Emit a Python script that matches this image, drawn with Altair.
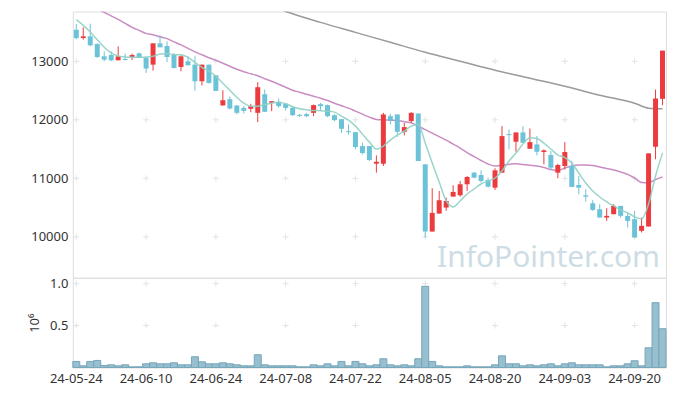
import altair as alt
import pandas as pd

dates = ["24-05-24","24-05-27","24-05-28","24-05-29","24-05-30","24-05-31","24-06-03","24-06-04","24-06-05","24-06-07",
         "24-06-10","24-06-11","24-06-12","24-06-13","24-06-14","24-06-17","24-06-18","24-06-19","24-06-20","24-06-21",
         "24-06-24","24-06-25","24-06-26","24-06-27","24-06-28","24-07-01","24-07-02","24-07-03","24-07-04","24-07-05",
         "24-07-08","24-07-09","24-07-10","24-07-11","24-07-12","24-07-15","24-07-16","24-07-17","24-07-18","24-07-19",
         "24-07-22","24-07-23","24-07-24","24-07-25","24-07-26","24-07-29","24-07-30","24-07-31","24-08-01","24-08-02",
         "24-08-05","24-08-06","24-08-07","24-08-08","24-08-09","24-08-12","24-08-13","24-08-14","24-08-16","24-08-19",
         "24-08-20","24-08-21","24-08-22","24-08-23","24-08-26","24-08-27","24-08-28","24-08-29","24-08-30","24-09-02",
         "24-09-03","24-09-04","24-09-05","24-09-06","24-09-09","24-09-10","24-09-11","24-09-12","24-09-13","24-09-19",
         "24-09-20","24-09-23","24-09-24","24-09-25","24-09-26"]

opens = [13540,13397,13426,13295,13085,13107,13017,13039,13073,13136,
         13056,12943,13307,13262,13107,12903,13000,12943,12659,12943,
         12761,12245,12352,12245,12204,12188,12119,12437,12290,12307,
         12273,12204,12085,12096,12119,12267,12250,12079,12011,11806,
         11789,11551,11551,11249,11249,12062,12091,11795,11977,12108,
         11239,10090,10397,10500,10687,10710,10898,11096,11056,10971,
         10840,11096,11755,11625,11784,11505,11579,11449,11398,11096,
         11210,11210,10886,10710,10574,10471,10329,10386,10528,10358,
         10301,10102,10176,11539,12358]
highs = [13636,13580,13643,13307,13170,13170,13256,13131,13131,13148,
         13073,13307,13443,13341,13142,13102,13085,13085,12943,12943,
         12761,12506,12398,12245,12233,12273,12642,12517,12318,12364,
         12273,12233,12102,12119,12262,12290,12262,12096,12011,11921,
         11789,11607,11551,11392,12119,12102,12091,11948,12130,12108,
         11239,10830,10784,10670,10881,10954,11039,11107,11136,11011,
         11171,11892,11835,11784,11892,11852,11721,11494,11466,11249,
         11619,11300,11039,10813,10625,10557,10489,10557,10528,10414,
         10443,10329,11426,12517,13182]
lows = [13375,13370,13256,13056,13000,13000,13017,13012,13022,13056,
        12800,12841,13239,12988,12875,12830,12932,12500,12586,12620,
        12494,12245,12176,12091,12108,12130,11960,12136,12148,12204,
        12159,12062,12045,12045,12062,12159,12045,11977,11778,11750,
        11494,11409,11295,11096,11210,11921,11710,11733,11948,11295,
        9987,10090,10397,10443,10687,10687,10784,11000,10926,10840,
        10801,11096,11494,11454,11607,11505,11392,11238,11136,11000,
        11153,10852,10727,10601,10443,10329,10272,10386,10329,10159,
        9988,10074,10176,11324,12250]
closes = [13397,13426,13273,13073,13029,13017,13085,13022,13107,13056,
          12875,13307,13239,13073,12886,13085,12932,12659,12943,12630,
          12494,12335,12193,12119,12153,12233,12557,12136,12318,12233,
          12204,12079,12068,12062,12250,12233,12062,11994,11846,11789,
          11534,11431,11312,11283,12091,11989,11795,11875,12119,11295,
          10090,10409,10625,10613,10767,10898,11022,11011,10954,10857,
          11136,11721,11738,11784,11607,11619,11454,11477,11181,11227,
          11449,10852,10840,10687,10460,10329,10358,10528,10358,10272,
          9988,10187,11426,12364,13182]
# volume, in millions of shares
volumes = [0.072,0.020,0.072,0.084,0.024,0.032,0.020,0.032,0.008,0.008,
           0.044,0.056,0.044,0.044,0.056,0.032,0.032,0.128,0.068,0.044,
           0.044,0.056,0.044,0.032,0.020,0.020,0.152,0.032,0.020,0.020,
           0.020,0.020,0.008,0.008,0.032,0.020,0.044,0.020,0.072,0.020,
           0.072,0.044,0.020,0.032,0.104,0.032,0.020,0.032,0.020,0.104,
           0.968,0.072,0.020,0.008,0.008,0.008,0.020,0.008,0.008,0.008,
           0.032,0.139,0.044,0.044,0.020,0.032,0.020,0.032,0.044,0.020,
           0.044,0.056,0.032,0.032,0.032,0.032,0.008,0.020,0.020,0.044,
           0.080,0.020,0.235,0.773,0.462]

ma5 = [13711,13614,13500,13370,13239,13142,13090,13073,13068,13068,
       13073,13085,13124,13131,13114,13111,13068,12983,12898,12830,
       12744,12625,12506,12386,12284,12233,12233,12262,12284,12301,
       12275,12224,12190,12173,12159,12156,12148,12131,12062,11994,
       11892,11755,11619,11500,11551,11653,11738,11807,11892,11926,
       11602,11261,10937,10613,10511,10613,10732,10818,10903,10954,
       11005,11125,11295,11431,11585,11692,11679,11602,11500,11398,
       11355,11261,11090,10920,10784,10681,10596,10528,10460,10408,
       10340,10306,10562,11039,11431]
ma20 = [None,None,None,13895,13835,13776,13716,13648,13580,13529,
        13477,13452,13418,13387,13332,13281,13222,13162,13111,13060,
        13017,12966,12915,12864,12821,12787,12753,12702,12659,12608,
        12557,12506,12471,12437,12403,12369,12330,12284,12241,12199,
        12148,12096,12045,12006,11999,11994,11989,11968,11948,11892,
        11832,11772,11713,11653,11585,11517,11440,11372,11304,11244,
        11210,11227,11239,11249,11235,11222,11210,11184,11150,11133,
        11176,11210,11227,11227,11218,11193,11167,11142,11108,11068,
        11005,10928,10925,10980,11022]
ma120_idx = [28,30,35,40,45,50,55,60,65,70,75,80,82,84]
ma120_val = [13940,13852,13665,13494,13324,13153,13000,12847,12710,12574,12420,12284,12199,12190]

tick_dates = ["24-05-24","24-06-10","24-06-24","24-07-08","24-07-22",
              "24-08-05","24-08-20","24-09-03","24-09-20"]
price_ticks = [10000, 11000, 12000, 13000]
vol_ticks = [0.5, 1.0]

UP = "#ec3b3e"
DOWN = "#6cc3d8"
FONT = "Noto Sans"

df = pd.DataFrame({"date": dates, "open": opens, "high": highs, "low": lows,
                   "close": closes, "vol": volumes})
df["dir"] = ["up" if c >= o else "down" for o, c in zip(opens, closes)]

ma5_df = pd.DataFrame({"date": dates, "v": ma5})
ma20_df = pd.DataFrame({"date": dates, "v": ma20}).dropna()
ma120_df = pd.DataFrame({"date": [dates[i] for i in ma120_idx], "v": ma120_val})

cross_p = pd.DataFrame([{"date": d, "v": p} for d in tick_dates for p in price_ticks])
cross_v = pd.DataFrame([{"date": d, "v": p} for d in tick_dates for p in vol_ticks])
wm = pd.DataFrame({"t": ["InfoPointer.com"]})

xscale = alt.Scale(domain=dates, paddingInner=0, paddingOuter=0)
pscale = alt.Scale(domain=[9300, 13850], nice=False, zero=False)
vscale = alt.Scale(domain=[0, 1.07], nice=False)

X_none = alt.X("date:N", sort=None, scale=xscale, axis=None)
PY = alt.Y("v:Q", scale=pscale, axis=alt.Axis(values=price_ticks, format="d", title=None,
                                              grid=False, ticks=False, domain=False, labelPadding=5))
cross_path = "M-1,0L1,0M0,-1L0,1"

crosses_price = alt.Chart(cross_p).mark_point(shape=cross_path, size=36, filled=False,
                                              stroke="#d9d9d9", strokeWidth=1).encode(x=X_none, y=PY)
watermark = alt.Chart(wm).mark_text(font=FONT, fontSize=30, color="#cddce5", align="right",
                                    baseline="alphabetic").encode(
    text="t:N", x=alt.value(589), y=alt.value(256))

line120 = alt.Chart(ma120_df).mark_line(color="#9a9a9a", strokeWidth=1.5, clip=True,
                                        interpolate="monotone").encode(x=X_none, y=alt.Y("v:Q", scale=pscale))
line20 = alt.Chart(ma20_df).mark_line(color="#c98dc3", strokeWidth=1.5, clip=True,
                                      interpolate="monotone").encode(x=X_none, y=alt.Y("v:Q", scale=pscale))
line5 = alt.Chart(ma5_df).mark_line(color="#8fd0c4", strokeWidth=1.5, clip=True, opacity=0.9,
                                    interpolate="monotone").encode(x=X_none, y=alt.Y("v:Q", scale=pscale))

cscale = alt.Scale(domain=["up", "down"], range=[UP, DOWN])
wicks = alt.Chart(df).mark_rule(strokeWidth=1).encode(
    x=X_none, y=alt.Y("low:Q", scale=pscale), y2="high:Q",
    color=alt.Color("dir:N", scale=cscale, legend=None))
bodies = alt.Chart(df).mark_bar(size=5).encode(
    x=X_none, y=alt.Y("open:Q", scale=pscale), y2="close:Q",
    color=alt.Color("dir:N", scale=cscale, legend=None))

price = alt.layer(crosses_price, watermark, line120, line20, wicks, bodies, line5).properties(
    width=595, height=267)

X_vol = alt.X("date:N", sort=None, scale=xscale,
              axis=alt.Axis(values=tick_dates, labelAngle=0, ticks=False, domain=False, grid=False,
                            title=None, labelPadding=5, labelFontSize=13))
crosses_vol = alt.Chart(cross_v).mark_point(shape=cross_path, size=36, filled=False,
                                            stroke="#d9d9d9", strokeWidth=1).encode(
    x=X_vol, y=alt.Y("v:Q", scale=vscale))
vbars = alt.Chart(df).mark_bar(fill="#97bfcf", stroke="#75a6ba", strokeWidth=1).encode(
    x=X_vol,
    y=alt.Y("vol:Q", scale=vscale,
            axis=alt.Axis(values=vol_ticks, format=".1f", title="10⁶", grid=False, ticks=False,
                          domain=False, labelPadding=5, titlePadding=8, titleFontWeight="normal",
                          titleFontSize=13, titleColor="#333333")))
volume = alt.layer(crosses_vol, vbars).properties(width=595, height=90)

chart = alt.vconcat(price, volume, spacing=0, bounds="flush").properties(
    padding={"left": 20, "top": 2, "right": 2, "bottom": 2}
).configure_view(stroke="#dedede").configure_axis(
    labelFont=FONT, titleFont=FONT, labelFontSize=13, labelColor="#333333"
)

chart.save("out.html", embed_options={"renderer": "svg", "actions": False})
